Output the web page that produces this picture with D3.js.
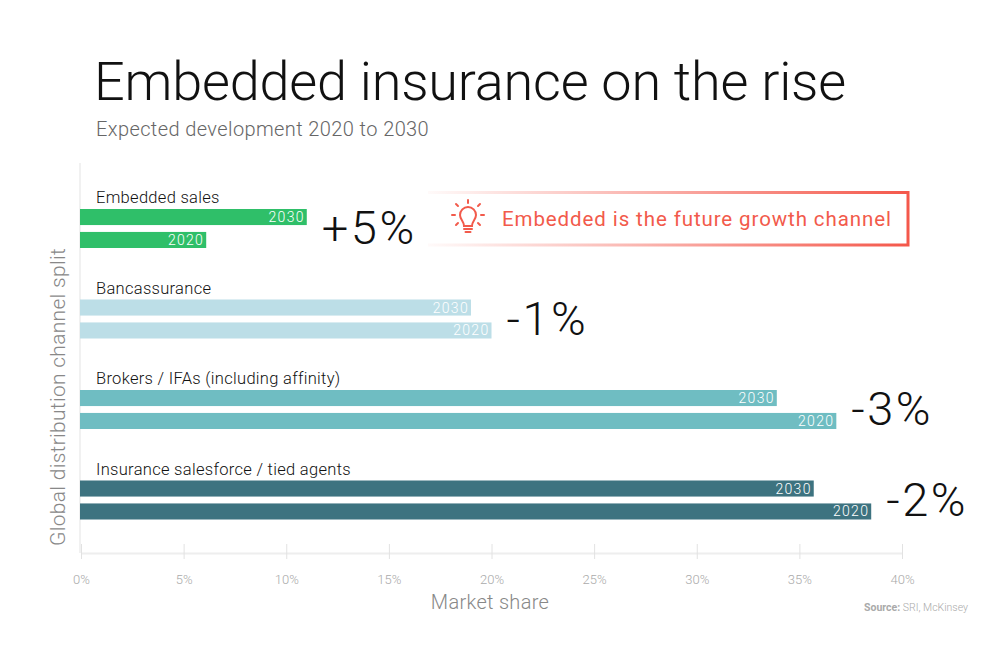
<!DOCTYPE html>
<html>
<head>
<meta charset="utf-8">
<script src="https://cdn.jsdelivr.net/npm/d3@7"></script>
<style>
  body { margin: 0; background: #fff; }
  text { font-family: Roboto, "Noto Sans", sans-serif; }
</style>
</head>
<body>
<div class="canvas"></div>
<script>
// data
const categories = ['Embedded sales', 'Bancassurance', 'Brokers / IFAs (including affinity)', 'Insurance salesforce / tied agents']
const years = ['2030', '2020']
const share2030 = [11, 19, 33.9, 35.7]
const share2020 = [6.1, 20, 36.8, 38.5]
const changeLabels = ['+5%', '-1%', '-3%', '-2%']
const tickValues = [0, 5, 10, 15, 20, 25, 30, 35, 40]
const colors = ['#2fbf69', '#bcdee7', '#6fbdc2', '#3d7380']

const svg = d3.select('.canvas')
  .append('svg')
  .attr('width', 1000)
  .attr('height', 667)

// titles
svg.append('text')
  .attr('x', 94)
  .attr('y', 100)
  .attr('font-size', 54)
  .attr('font-weight', 300)
  .attr('letter-spacing', -0.2)
  .attr('fill', '#111')
  .text('Embedded insurance on the rise')

svg.append('text')
  .attr('x', 96)
  .attr('y', 136)
  .attr('font-size', 20)
  .attr('font-weight', 300)
  .attr('letter-spacing', 0.4)
  .attr('fill', '#666')
  .text('Expected development 2020 to 2030')

// scales
const x = d3.scaleLinear()
  .domain([0, 40])
  .range([81, 902])

const y = d3.scaleBand()
  .domain(categories)
  .range([182, 544])

const yInner = d3.scaleBand()
  .domain(years)
  .range([27, 66])
  .paddingInner(0.3)

// y axis line
svg.append('line')
  .attr('x1', 80).attr('x2', 80)
  .attr('y1', 163).attr('y2', 553)
  .attr('stroke', '#ececec')
  .attr('stroke-width', 1.5)

// y axis title
svg.append('text')
  .attr('transform', 'translate(65, 397) rotate(-90)')
  .attr('text-anchor', 'middle')
  .attr('font-size', 21)
  .attr('font-weight', 300)
  .attr('letter-spacing', 0.3)
  .attr('fill', '#888')
  .text('Global distribution channel split')

// x axis
const xAxis = d3.axisBottom(x)
  .tickValues(tickValues)
  .tickSize(0)
  .tickFormat(d => `${d}%`)

const xAxisGroup = svg.append('g')
  .attr('transform', 'translate(0, 553)')
  .call(xAxis)

xAxisGroup.select('.domain')
  .attr('stroke', '#eeeeee')
  .attr('stroke-width', 2)

xAxisGroup.selectAll('.tick line')
  .attr('y1', -9)
  .attr('y2', 6)
  .attr('stroke', '#e2e2e2')

xAxisGroup.selectAll('.tick text')
  .attr('y', 22)
  .attr('font-size', 13)
  .attr('font-family', 'Roboto, sans-serif')
  .attr('font-weight', 300)
  .attr('fill', '#aaa')

svg.append('text')
  .attr('x', 490)
  .attr('y', 609)
  .attr('text-anchor', 'middle')
  .attr('font-size', 20)
  .attr('font-weight', 300)
  .attr('letter-spacing', 0.3)
  .attr('fill', '#888')
  .text('Market share')

const source = svg.append('text')
  .attr('x', 968)
  .attr('y', 611)
  .attr('text-anchor', 'end')
  .attr('font-size', 10.5)
  .attr('fill', '#aaa')
source.append('tspan').attr('font-weight', 700).text('Source: ')
source.append('tspan').attr('font-weight', 300).text('SRI, McKinsey')

// bars
const rows = categories.map((c, i) => ({
  name: c,
  color: colors[i],
  change: changeLabels[i],
  values: [{ year: '2030', v: share2030[i] }, { year: '2020', v: share2020[i] }]
}))

const groups = svg.selectAll('g.group')
  .data(rows)
  .enter()
  .append('g')
  .attr('class', 'group')
  .attr('transform', d => `translate(0, ${y(d.name)})`)

groups.append('text')
  .attr('x', 96)
  .attr('y', 21)
  .attr('font-size', 16.5)
  .attr('font-weight', 300)
  .attr('letter-spacing', 0.3)
  .attr('fill', '#111')
  .text(d => d.name)

groups.selectAll('rect')
  .data(d => d.values.map(v => ({ ...v, color: d.color })))
  .enter()
  .append('rect')
  .attr('x', x(0) - 1)
  .attr('y', d => yInner(d.year))
  .attr('width', d => x(d.v) - x(0) + 1)
  .attr('height', yInner.bandwidth())
  .attr('fill', d => d.color)

groups.selectAll('text.year')
  .data(d => d.values)
  .enter()
  .append('text')
  .attr('class', 'year')
  .attr('x', d => x(d.v) - 2)
  .attr('y', d => yInner(d.year) + yInner.bandwidth() / 2 + 5)
  .attr('text-anchor', 'end')
  .attr('font-size', 14)
  .attr('font-weight', 300)
  .attr('letter-spacing', 1.3)
  .attr('fill', '#fff')
  .text(d => d.year)

groups.append('text')
  .attr('x', d => x(d3.max(d.values, v => v.v)) + 15)
  .attr('y', 46 + 16)
  .attr('font-size', 47)
  .attr('font-weight', 300)
  .attr('letter-spacing', 2.5)
  .attr('fill', '#111')
  .text(d => d.change)

// callout
const defs = svg.append('defs')
const grad = defs.append('linearGradient')
  .attr('id', 'fade')
  .attr('gradientUnits', 'userSpaceOnUse')
  .attr('x1', 428).attr('x2', 910)
  .attr('y1', 0).attr('y2', 0)
grad.append('stop').attr('offset', 0).attr('stop-color', '#f4574a').attr('stop-opacity', 0.03)
grad.append('stop').attr('offset', 0.45).attr('stop-color', '#f4574a').attr('stop-opacity', 0.45)
grad.append('stop').attr('offset', 1).attr('stop-color', '#f4574a').attr('stop-opacity', 1)

svg.append('path')
  .attr('d', 'M428,192.5H908V245H428')
  .attr('fill', 'none')
  .attr('stroke', 'url(#fade)')
  .attr('stroke-width', 3)

svg.append('text')
  .attr('x', 502)
  .attr('y', 226)
  .attr('font-size', 20.5)
  .attr('letter-spacing', 0.9)
  .attr('fill', '#f25a4b')
  .text('Embedded is the future growth channel')

// bulb icon
const bulb = svg.append('g')
  .attr('transform', 'translate(468, 216)')
  .attr('stroke', '#f25a4b')
  .attr('stroke-width', 2)
  .attr('fill', 'none')
  .attr('stroke-linecap', 'round')
bulb.append('path')
  .attr('d', 'M-4,10 C-4,5 -8,3.5 -8,-1 A8,8 0 1 1 8,-1 C8,3.5 4,5 4,10 Z')
bulb.append('line').attr('x1', -4).attr('x2', 4).attr('y1', 13).attr('y2', 13)
bulb.append('line').attr('x1', -2.5).attr('x2', 2.5).attr('y1', 16).attr('y2', 16)
;[[0, -16, 0, -13], [-12, -12, -10, -10], [12, -12, 10, -10], [-16, -1, -13, -1], [16, -1, 13, -1], [-12, 9, -10, 7], [12, 9, 10, 7]]
  .forEach(l => bulb.append('line').attr('x1', l[0]).attr('y1', l[1]).attr('x2', l[2]).attr('y2', l[3]))
</script>
</body>
</html>
